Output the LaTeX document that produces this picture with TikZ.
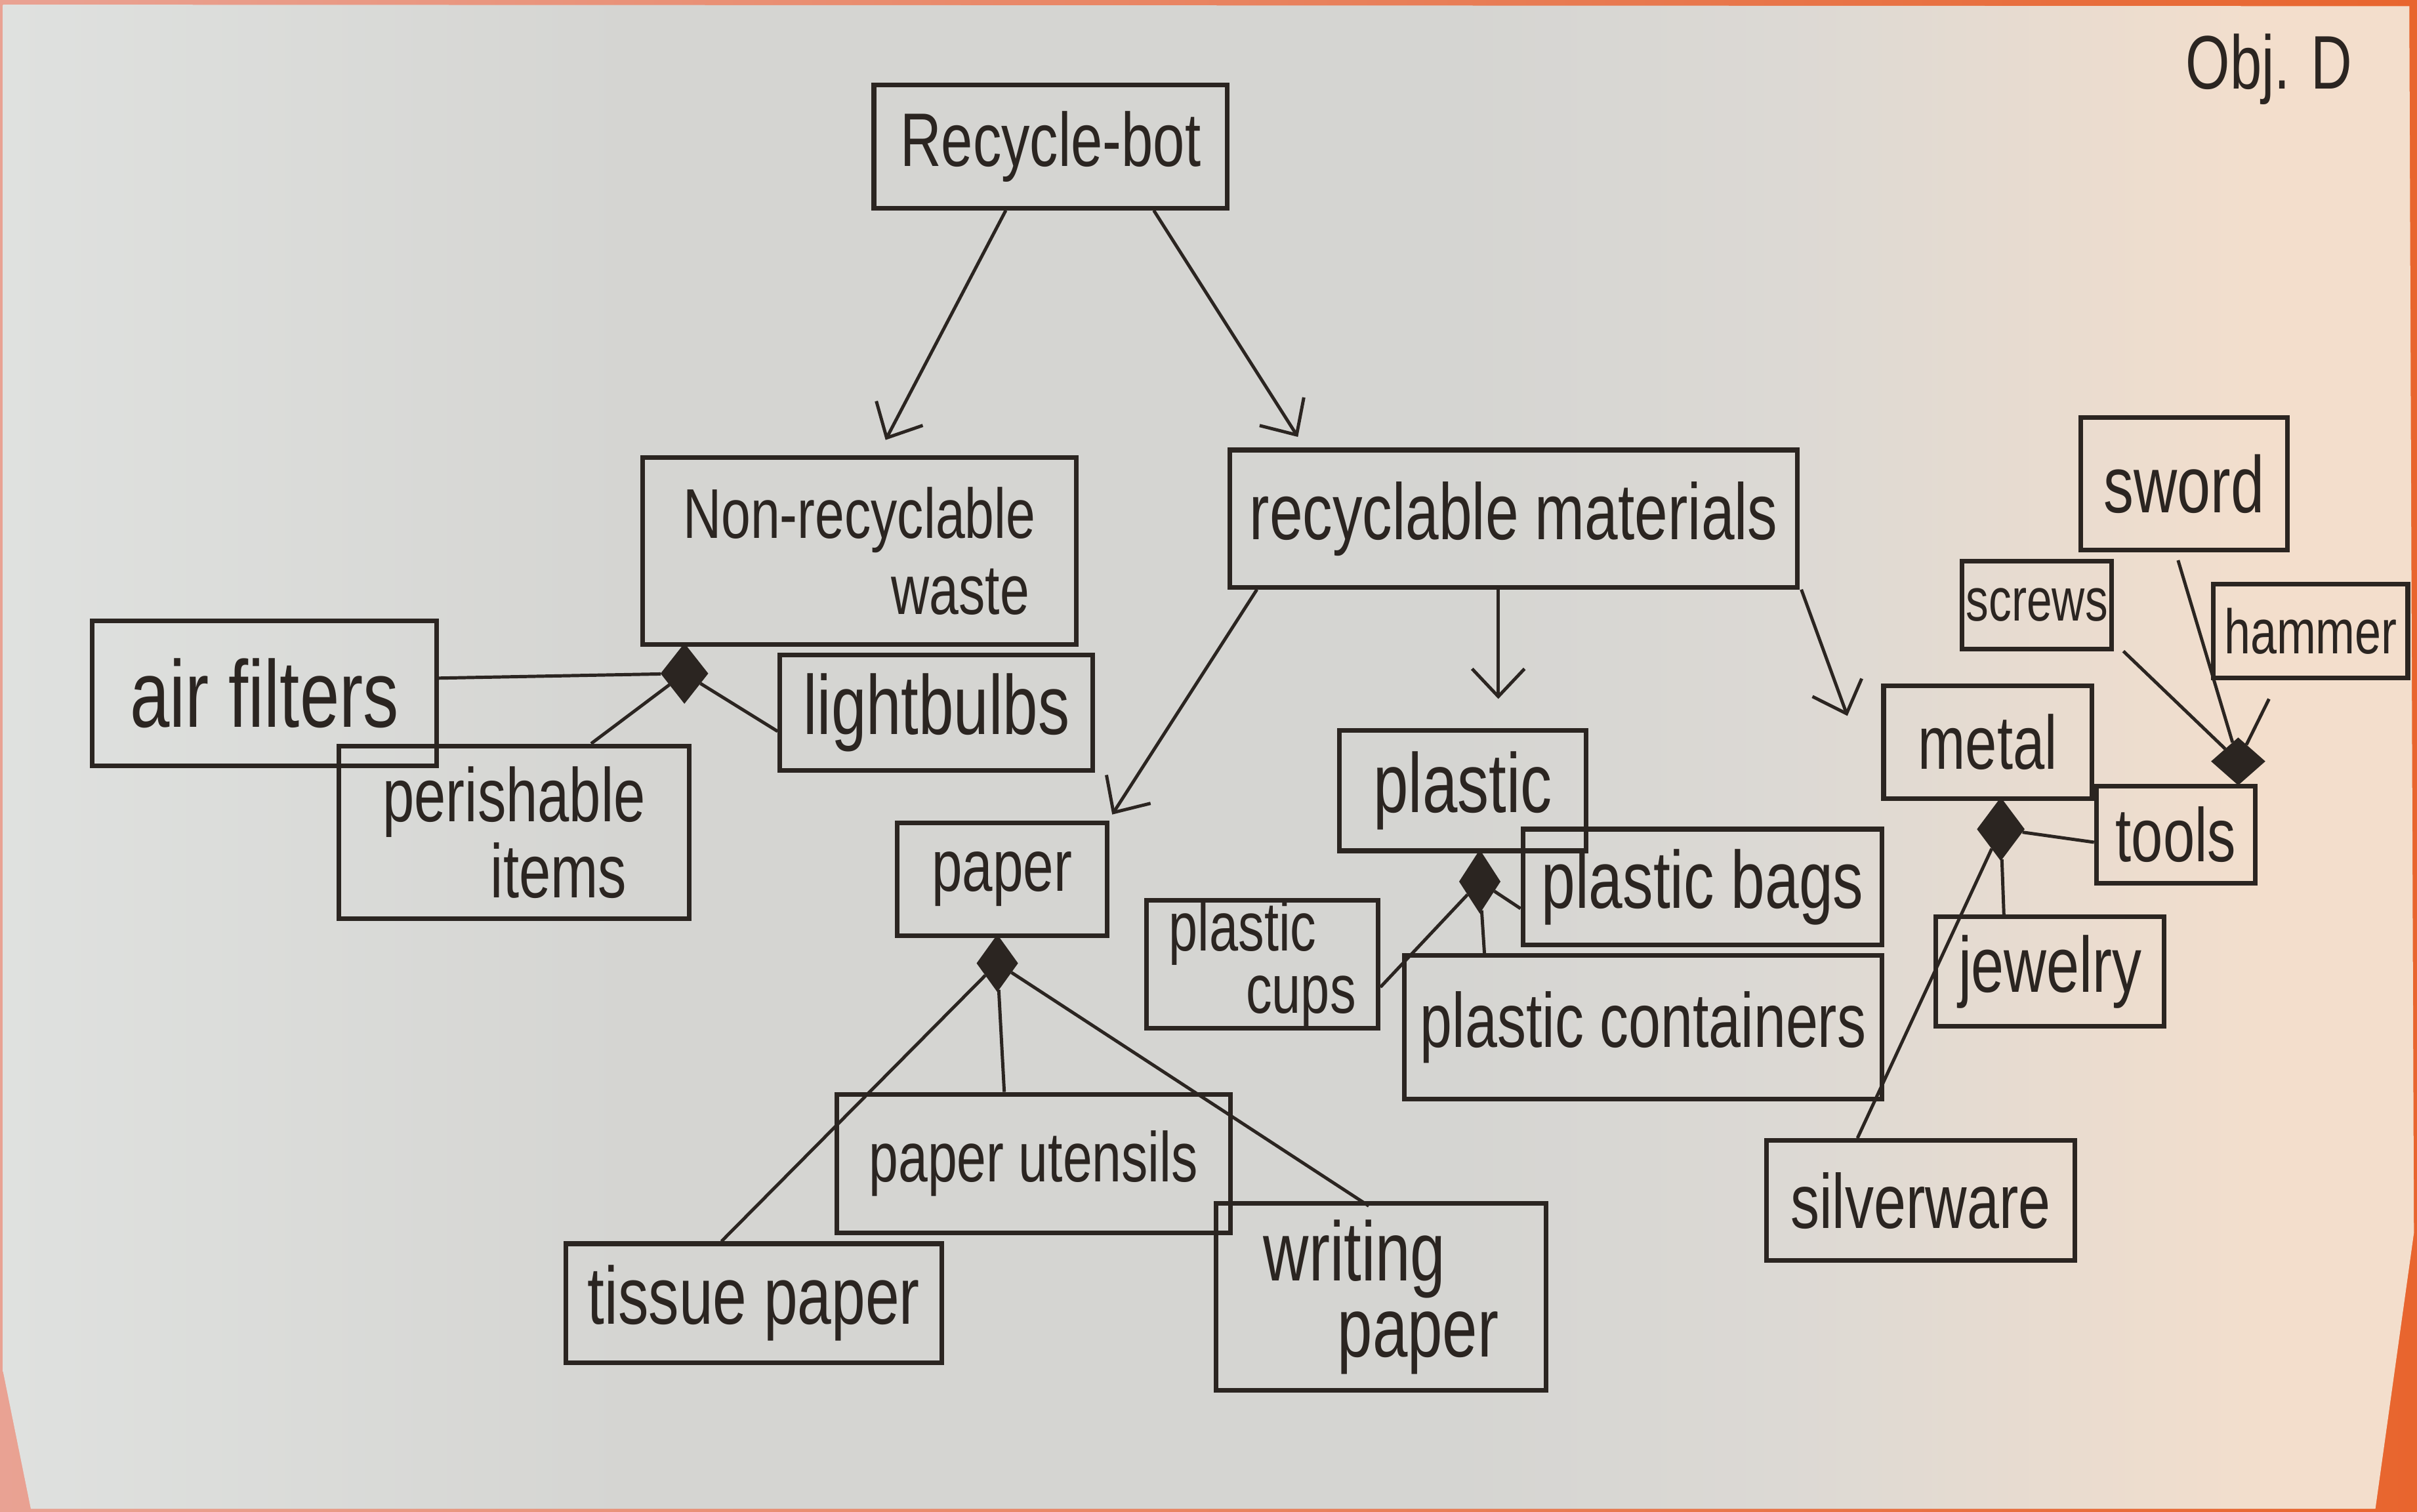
\documentclass[tikz,border=0pt]{standalone}
\usepackage{fontspec}
\setmainfont{Liberation Sans}[FakeStretch=0.75]
\usetikzlibrary{arrows.meta,shapes.geometric,calc}
\definecolor{ink}{HTML}{2B2521}
\definecolor{paperL}{RGB}{223,225,223}
\definecolor{paperM}{RGB}{213,213,210}
\definecolor{paperN}{RGB}{220,217,212}
\definecolor{paperR}{RGB}{243,222,204}
\definecolor{bgL}{HTML}{E9A293}
\definecolor{bgR}{HTML}{E8652E}
\pgfdeclarehorizontalshading{paperfill}{100bp}{color(0bp)=(paperL); color(25bp)=(paperL); color(38bp)=(paperM); color(55bp)=(paperM); color(62bp)=(paperN); color(72bp)=(paperR); color(100bp)=(paperR)}
\newcommand{\fsz}[1]{\fontsize{#1}{#1}\selectfont}
\begin{document}
\begin{tikzpicture}[x=0.01cm,y=-0.01cm,
  box/.style={draw=ink, line width=0.85pt, rectangle, inner sep=0pt, text=ink, align=center},
  dia/.style={diamond, fill=ink, draw=ink, line width=0.3pt, inner sep=0pt},
  link/.style={draw=ink, line width=0.6pt},
  arr/.style={link, -{Straight Barb[length=1.8mm,width=3.4mm]}}]
\useasboundingbox (0,0) rectangle (1568,981);
% background and paper
\fill[left color=bgL, right color=bgR] (0,0) rectangle (1568,981);
\shade[shading=paperfill]
  (2,3) -- (1563,4) -- (1566,800) -- (1541,979) -- (20,979) -- (2,890) -- cycle;
% title
\node[text=ink, font=\fsz{14}] (obj) at (1472,45) {Obj. D};
% boxes
\node[box, minimum width=2.29cm, minimum height=0.80cm, font=\fsz{14}] (rb) at (681.5,95) {Recycle-bot};
\node[box, minimum width=2.81cm, minimum height=1.21cm, align=left, font=\fontsize{13}{14}\selectfont] (nrw) at (557.5,357.5) {Non-recyclable\\\hspace*{1.35cm}waste};
\node[box, minimum width=3.68cm, minimum height=0.89cm, font=\fsz{14.7}] (rm) at (982,336.5) {recyclable materials};
\node[box, minimum width=2.23cm, minimum height=0.94cm, font=\fsz{17.5}] (af) at (171.5,450) {air filters};
\node[box, minimum width=2.03cm, minimum height=0.75cm, font=\fsz{15.5}] (lb) at (607.5,462.5) {lightbulbs};
\node[box, minimum width=2.27cm, minimum height=1.12cm, align=left, font=\fontsize{14}{12}\selectfont] (pi) at (333.5,540) {perishable\\\hspace*{0.7cm}items};
\node[box, minimum width=1.36cm, minimum height=0.73cm, font=\fsz{13.5}] (pa) at (650,570.5) {paper};
\node[box, minimum width=1.60cm, minimum height=0.78cm, font=\fsz{15.5}] (pl) at (949,513) {plastic};
\node[box, minimum width=1.35cm, minimum height=0.73cm, font=\fsz{14}] (me) at (1289.5,481.5) {metal};
\node[box, minimum width=1.34cm, minimum height=0.86cm, font=\fsz{14.8}] (sw) at (1417,314) {sword};
\node[box, minimum width=0.97cm, minimum height=0.57cm, font=\fsz{11.2}] (sc) at (1321.5,392.5) {screws};
\node[box, minimum width=1.26cm, minimum height=0.61cm, font=\fsz{11.6}] (ha) at (1499,409.5) {hammer};
\node[box, minimum width=1.03cm, minimum height=0.63cm, font=\fsz{14}] (to) at (1411.5,541.5) {tools};
\node[box, minimum width=1.48cm, minimum height=0.71cm, font=\fsz{14.5}] (je) at (1330,630.5) {jewelry};
\node[box, minimum width=2.00cm, minimum height=0.78cm, font=\fsz{14.2}] (si) at (1246,779) {silverware};
\node[box, minimum width=2.33cm, minimum height=0.75cm, font=\fsz{15}] (pb) at (1104.5,575.5) {plastic bags};
\node[box, minimum width=1.50cm, minimum height=0.83cm, align=left, font=\fontsize{12.8}{11.5}\selectfont] (pc) at (819,625.5) {plastic\\\hspace*{0.5cm}cups};
\node[box, minimum width=3.10cm, minimum height=0.93cm, font=\fsz{14.2}] (pco) at (1066,666.5) {plastic containers};
\node[box, minimum width=2.55cm, minimum height=0.90cm, font=\fsz{13}] (pu) at (670.5,755) {paper utensils};
\node[box, minimum width=2.44cm, minimum height=0.77cm, font=\fsz{15}] (tp) at (489,845.5) {tissue paper};
\node[box, minimum width=2.14cm, minimum height=1.21cm, align=left, font=\fontsize{15.5}{14}\selectfont] (wp) at (896,841.5) {writing\\\hspace*{0.48cm}paper};
% composition diamonds
\node[dia, minimum width=0.30cm, minimum height=0.38cm] (dnr) at (444,437) {};
\node[dia, minimum width=0.26cm, minimum height=0.36cm] (dpa) at (647,625) {};
\node[dia, minimum width=0.26cm, minimum height=0.40cm] (dpl) at (960,572) {};
\node[dia, minimum width=0.30cm, minimum height=0.40cm] (dme) at (1298,538) {};
\node[dia, minimum width=0.34cm, minimum height=0.30cm] (dto) at (1452,494) {};
% generalisation arrows
\draw[arr] ($(rb.south)+(-29,0)$) -- ($(nrw.north)+(17,-10)$);
\draw[arr] ($(rb.south)+(67,0)$) -- ($(rm.north)+(-140,-7)$);
\draw[arr] ($(rm.south west)+(19,0)$) -- ($(pa.north east)+(2,-4)$);
\draw[arr] ($(rm.south)+(-10,0)$) -- ($(pl.north)+(23,-19)$);
\draw[arr] ($(rm.south east)+(1,0)$) -- ($(me.north west)+(-22,21)$);
% composition links
\draw[link] (dnr) -- ($(af.east)+(0,-10)$);
\draw[link] (dnr) -- ($(pi.north)+(50,0)$);
\draw[link] (dnr) -- ($(lb.west)+(0,12)$);
\draw[link] (dpa) -- ($(tp.north)+(-21,0)$);
\draw[link] (dpa) -- ($(pu.north)+(-19,0)$);
\draw[link] (dpa) -- ($(wp.north)+(-8,3)$);
\draw[link] (dpl) -- ($(pc.east)+(0,15)$);
\draw[link] (dpl) -- ($(pb.west)+(0,14)$);
\draw[link] (dpl) -- ($(pco.north)+(-103,0)$);
\draw[link] (dme) -- ($(si.north)+(-41,0)$);
\draw[link] (dme) -- ($(je.north)+(-30,0)$);
\draw[link] (dme) -- ($(to.west)+(0,5)$);
\draw[link] (dto) -- ($(sc.south)+(56,0)$);
\draw[link] (dto) -- ($(sw.south)+(-4,5)$);
\draw[link] (dto) -- ($(ha.south)+(-27,12)$);
\end{tikzpicture}
\end{document}
